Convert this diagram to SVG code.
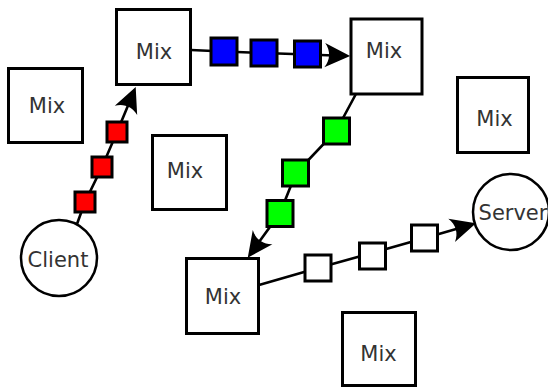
<svg xmlns="http://www.w3.org/2000/svg" width="548" height="388" viewBox="0 0 548 388">
<style>
.box{fill:#fff;stroke:#000;stroke-width:3}
.host{fill:#fff;stroke:#000;stroke-width:2.5}
.lbl{font-family:"DejaVu Sans","Liberation Sans",sans-serif;font-size:21px;fill:#333;text-anchor:middle}
.wire{fill:none;stroke:#000;stroke-width:2.6;marker-end:url(#arr)}
.pk{stroke:#000;stroke-width:3}
.red{fill:#f00}
.blue{fill:#00f}
.green{fill:#0f0}
.white{fill:#fff}
</style>
<defs>
<marker id="arr" markerUnits="userSpaceOnUse" markerWidth="30" markerHeight="30" viewBox="-10 -12 26 24" refX="0" refY="0" orient="auto" overflow="visible">
<path d="M14,0 L-8,-10.5 C-3,-4 -3,4 -8,10.5 Z" fill="#000"/>
</marker>
</defs>
<rect width="548" height="388" fill="#fff"/>
<g id="connectors">
<polyline class="wire" points="77,224 85,202 102,167 117,132 129.5,101.9"/>
<polyline class="wire" points="191,50 224,51.5 264,53 307,54.5 334,55.5"/>
<polyline class="wire" points="357,92 336,131 296,173 280,213 257.2,244.6"/>
<polyline class="wire" points="259,285 318,268 372,253 425,238 460.5,227.8"/>
<g id="packets">
<rect class="pk red" x="107" y="122" width="20" height="20"/>
<rect class="pk red" x="92" y="157" width="20" height="20"/>
<rect class="pk red" x="75" y="192" width="20" height="20"/>
<rect class="pk blue" x="211" y="38" width="26" height="27"/>
<rect class="pk blue" x="251" y="40" width="26" height="26"/>
<rect class="pk blue" x="294.5" y="41" width="26" height="26"/>
<rect class="pk green" x="323.5" y="118" width="26" height="26"/>
<rect class="pk green" x="282.5" y="160" width="26" height="26"/>
<rect class="pk green" x="267" y="200.5" width="26" height="26"/>
<rect class="pk white" x="305" y="255" width="26" height="26"/>
<rect class="pk white" x="359.5" y="243" width="26" height="26"/>
<rect class="pk white" x="411.5" y="225" width="26" height="26"/>
</g>
</g>
<g id="mix1"><rect class="box" x="116.5" y="9.5" width="74" height="75"/><text class="lbl" x="154" y="59">Mix</text></g>
<g id="mix2"><rect class="box" x="8.5" y="68.5" width="74" height="74"/><text class="lbl" x="47" y="113">Mix</text></g>
<g id="mix3"><rect class="box" x="152.5" y="135.5" width="74" height="74"/><text class="lbl" x="185" y="178">Mix</text></g>
<g id="mix4"><rect class="box" x="351" y="19" width="71" height="75"/><text class="lbl" x="384" y="58">Mix</text></g>
<g id="mix5"><rect class="box" x="457.5" y="77.5" width="71" height="75"/><text class="lbl" x="494.5" y="126">Mix</text></g>
<g id="mix6"><rect class="box" x="186.5" y="258.5" width="72" height="75"/><text class="lbl" x="223" y="304">Mix</text></g>
<g id="mix7"><rect class="box" x="342.5" y="312.5" width="73" height="73"/><text class="lbl" x="378.5" y="361">Mix</text></g>
<g id="client"><circle class="host" cx="59" cy="258" r="38"/><text class="lbl" x="58" y="267">Client</text></g>
<g id="server"><circle class="host" cx="511" cy="212" r="38"/><text class="lbl" x="513" y="220">Server</text></g>
</svg>
